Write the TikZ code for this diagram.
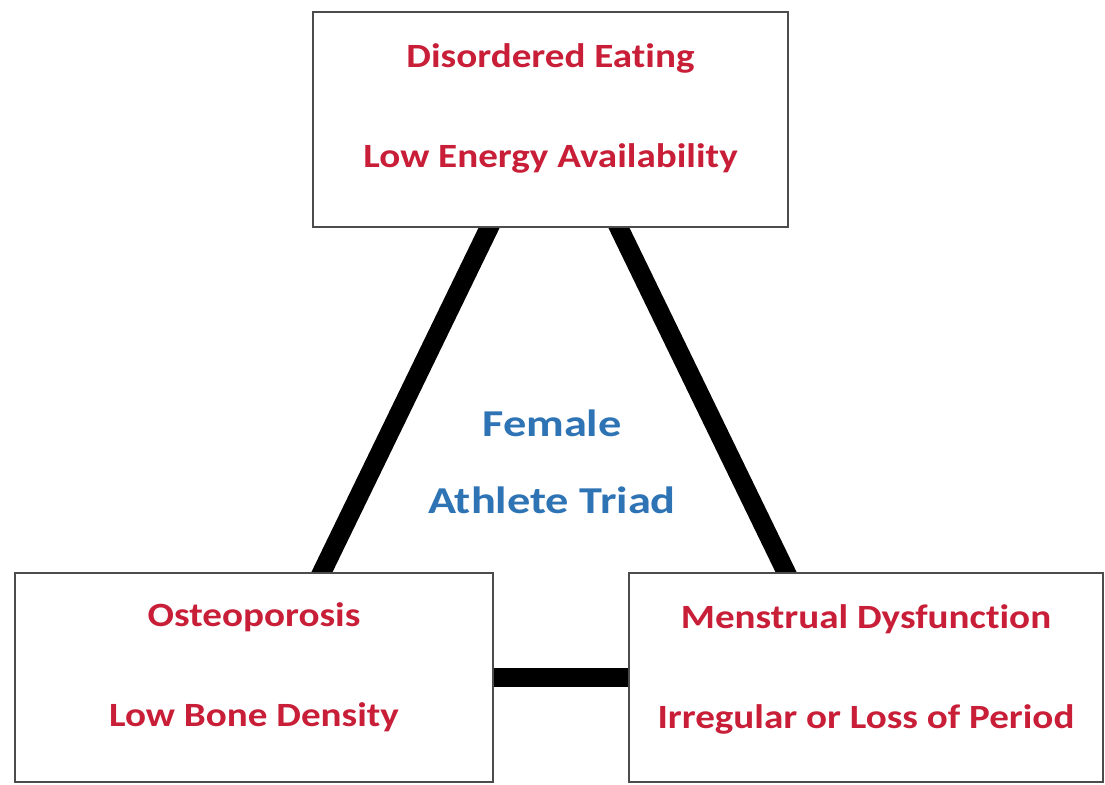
\documentclass[tikz,border=0pt]{standalone}
\usepackage{fontspec}
\setmainfont{Carlito}[FakeStretch=1.15, Ligatures=NoCommon]
\newfontfamily\triadfont{Carlito}[FakeStretch=1.22, Ligatures=NoCommon]
\usetikzlibrary{calc,backgrounds}
\definecolor{triadred}{RGB}{200,30,55}
\definecolor{triadblue}{RGB}{46,116,181}
\tikzset{
	triadbox/.style={draw=black!70, line width=2pt, fill=white, rectangle, inner sep=0pt},
	boxtext/.style={text=triadred, font=\bfseries\fontsize{34}{100}\selectfont, align=center},
	link/.style={line width=19pt, shorten <=-14pt, shorten >=-14pt}
}

\begin{document}
\begin{tikzpicture}[x=1pt,y=-1pt]
	\useasboundingbox (0,0) rectangle (1105,784);
	\node[triadbox, minimum width=475pt, minimum height=215pt] (eating) at (550.5,119.5) {};
	\node[triadbox, minimum width=478pt, minimum height=209pt] (bone) at (254,677.5) {};
	\node[triadbox, minimum width=474pt, minimum height=209pt] (period) at (866,677.5) {};

	\node[boxtext] (eatingtext) at ([yshift=11pt]eating.center) {Disordered Eating\\Low Energy Availability};
	\node[boxtext] (bonetext) at ([yshift=10pt]bone.center) {Osteoporosis\\Low Bone Density};
	\node[boxtext] (periodtext) at ([yshift=8pt]period.center) {Menstrual Dysfunction\\Irregular or Loss of Period};

	\node[text=triadblue, font=\triadfont\bfseries\fontsize{38}{77}\selectfont, align=center] (triad) at (552,462) {Female\\Athlete Triad};

	\begin{scope}[on background layer]
	\draw[link] ([xshift=177pt]eating.south west) -- ([xshift=308pt]bone.north west);
	\draw[link] ([xshift=307pt]eating.south west) -- ([xshift=158pt]period.north west);
	\draw[link] (bone.east) -- (period.west);
	\end{scope}
\end{tikzpicture}
\end{document}
